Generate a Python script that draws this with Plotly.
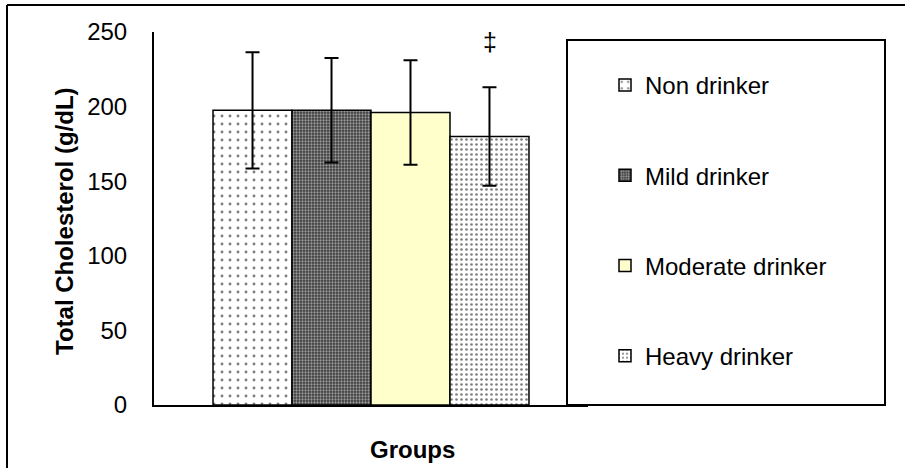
import plotly.graph_objects as go

groups = ["Non drinker", "Mild drinker", "Moderate drinker", "Heavy drinker"]
means = [197.5, 197.5, 196.0, 180.0]
sds = [39.0, 35.0, 35.0, 33.0]
category = ["Groups"]
y_ticks = [0, 50, 100, 150, 200, 250]
sig_label = "‡"

styles = [
    dict(color="white", pattern=dict(shape=".", size=8, solidity=0.1, fgcolor="black", fillmode="overlay")),
    dict(color="#3a3a3a", pattern=dict(shape=".", size=3, solidity=0.45, fgcolor="white", fillmode="overlay")),
    dict(color="#FFFFCC"),
    dict(color="white", pattern=dict(shape=".", size=5, solidity=0.22, fgcolor="black", fillmode="overlay")),
]

FONT = "Liberation Sans, Arial, sans-serif"

fig = go.Figure()
for i, (g, m, s) in enumerate(zip(groups, means, sds)):
    fig.add_trace(go.Bar(
        x=category, y=[m], name=g, legendgroup=g,
        marker=dict(line=dict(color="black", width=1.5), **styles[i]),
        error_y=dict(type="data", array=[s], visible=True, color="black", thickness=2, width=7),
    ))

L, R, T, B = 154, 317, 32, 63
fig.update_layout(
    width=905, height=468,
    margin=dict(l=L, r=R, t=T, b=B, pad=0),
    paper_bgcolor="white", plot_bgcolor="white",
    barmode="group", bargap=0.272, bargroupgap=0,
    font=dict(family=FONT, size=24, color="black"),
    showlegend=True,
    legend=dict(
        x=(605 - L) / 434, xanchor="left",
        y=(405 - 63) / 373, yanchor="top",
        traceorder="grouped", tracegroupgap=56,
        bgcolor="rgba(0,0,0,0)", borderwidth=0,
        font=dict(family=FONT, size=24, color="black"),
    ),
    xaxis=dict(showticklabels=False, showline=True, linecolor="black", linewidth=2,
               ticks="", showgrid=False, zeroline=False),
    yaxis=dict(range=[0, 250], tickvals=y_ticks, showline=True, linecolor="black",
               linewidth=2, ticks="", showgrid=False, zeroline=False,
               ticklabelstandoff=20, tickfont=dict(size=24)),
    shapes=[
        # legend box
        dict(type="rect", xref="paper", yref="paper",
             x0=(567 - L) / 434, x1=(885 - L) / 434, y0=0, y1=(405 - 40) / 373,
             line=dict(color="black", width=2), fillcolor="white", layer="above"),
        # outer chart border (top and left)
        dict(type="line", xref="paper", yref="paper",
             x0=(7 - L) / 434, x1=(905 - L) / 434, y0=(405 - 5) / 373, y1=(405 - 5) / 373,
             line=dict(color="black", width=2)),
        dict(type="line", xref="paper", yref="paper",
             x0=(7 - L) / 434, x1=(7 - L) / 434, y0=(405 - 5) / 373, y1=(405 - 470) / 373,
             line=dict(color="black", width=2)),
    ],
    annotations=[
        dict(text="<b>Total Cholesterol (g/dL)</b>", textangle=-90, xref="paper", yref="paper",
             x=(64 - L) / 434, y=(405 - 221) / 373, showarrow=False, font=dict(size=24),
             xanchor="center", yanchor="middle"),
        dict(text="<b>Groups</b>", xref="paper", yref="paper",
             x=(412 - L) / 434, y=(405 - 449) / 373, showarrow=False, font=dict(size=24),
             xanchor="center", yanchor="middle"),
        dict(text=sig_label, xref="paper", yref="y",
             x=(490 - L) / 434, y=243, showarrow=False, font=dict(size=25, color="black"),
             xanchor="center", yanchor="middle"),
    ],
)

fig.write_html("out.html", config={"displayModeBar": False},
               post_script="document.body.style.margin='0';document.body.style.padding='0';")
